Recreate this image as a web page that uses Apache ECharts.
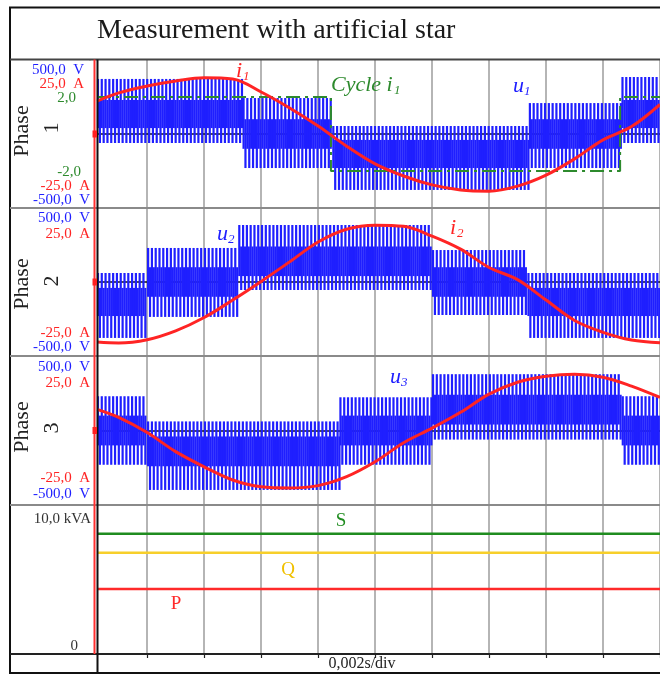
<!DOCTYPE html>
<html><head><meta charset="utf-8">
<script src="https://cdn.jsdelivr.net/npm/echarts@6/dist/echarts.min.js"></script>
<style>html,body{margin:0;padding:0;background:#fff}#c{width:660px;height:677px}</style>
</head><body><div id="c"></div>
<script>
// ---------------- data (time in ms, 0,002 s/div) ----------------
const timeMs = [-1.76, -1, 0, 1, 2, 3, 4, 5, 6, 7, 8, 9, 10, 11, 12, 13, 14, 15, 16, 17, 18];
const i1 = [11.1, 13.9, 16.2, 17.9, 19.0, 18.6, 14.2, 8.8, 2.7, -4.1, -10.1, -14.2, -17.2, -18.9, -19.3, -17.6, -13.9, -8.4, -2.0, 2.5, 10.0];
const i2 = [-20.3, -20.6, -19.5, -16.5, -12.0, -6.1, 0.2, 6.8, 13.5, 17.8, 19.2, 18.8, 15.5, 11.1, 4.9, 0.8, -6.1, -13.0, -17.0, -19.6, -20.5];
const i3 = [7.1, 4.4, -0.7, -7.1, -12.2, -16.6, -18.9, -19.3, -18.5, -15.5, -10.5, -4.1, 0.8, 6.1, 12.2, 16.2, 18.2, 18.9, 17.9, 14.9, 11.1];
const cycleTime = [-1.76, 6.45, 6.45, 16.6, 16.6, 18];
const cycleI1 = [2, 2, -2, -2, 2, 2];
const pwmPeriodMs = 0.133;
// voltage segments: [start ms, end ms, low V, dense-band low V, dense-band high V, high V]
const u1Segments = [
  [-1.76, 3.35, -61, 40, 230, 372],
  [3.35, 6.5, -230, -100, 100, 243],
  [6.5, 13.4, -378, -230, -40, 54],
  [13.4, 16.65, -230, -100, 100, 209],
  [16.65, 18, -61, 40, 230, 385]
];
const u2Segments = [
  [-1.76, 0, -378, -230, -40, 61],
  [0, 3.2, -236, -100, 100, 230],
  [3.2, 10, -54, 40, 240, 385],
  [10, 13.35, -223, -100, 100, 216],
  [13.35, 18, -378, -230, -40, 61]
];
const u3Segments = [
  [-1.76, 0, -230, -100, 100, 230],
  [0, 6.75, -399, -240, -40, 61],
  [6.75, 10, -230, -100, 100, 223],
  [10, 16.66, -61, 40, 240, 378],
  [16.66, 18, -230, -100, 100, 230]
];
const powerTime = [-1.76, 18];
const powerNames = ['S', 'Q', 'P'];
const powerKVA = [8.07, 6.8, 4.36];
const powerColors = ['#1f8c1f', '#f7cf2a', '#ff2a2a'];

// ---------------- styling ----------------
const BLUE = '#1f1fff', RED = '#ff2424', GREEN = '#2d8a2d';
const FONT = "'Liberation Serif','Times New Roman',serif";
const GL = 90.2, GW = 571;
const panels = [{top: 60, h: 148}, {top: 208, h: 148}, {top: 356, h: 149}, {top: 505, h: 149}];

// up-spikes (band low -> high) and down-spikes (low -> band high) alternate every half switching period
function pwmRender(params, api) {
  const t0 = api.value(0), t1 = api.value(1), lo = api.value(2), bLo = api.value(3), bHi = api.value(4), hi = api.value(5);
  const children = [];
  const half = pwmPeriodMs / 2;
  let up = true;
  for (let t = t0 + half / 2; t < t1; t += half) {
    const p = api.coord([t, up ? hi : bHi]), q = api.coord([t, up ? bLo : lo]);
    children.push({type: 'rect', shape: {x: p[0] - 1.1, y: p[1], width: 2.2, height: q[1] - p[1]}, style: {fill: BLUE}});
    up = !up;
  }
  return {type: 'group', children};
}

const zip = (xs, ys) => xs.map((x, k) => [x, ys[k]]);

const xAxis = panels.map((p, i) => ({
  type: 'value', gridIndex: i, min: -2, max: 18, interval: 2,
  axisLine: {show: i < 3, onZero: true, lineStyle: {color: '#111', width: 1.6}},
  axisTick: {show: i === 3, length: 4, lineStyle: {color: '#222', width: 1.2}},
  axisLabel: {show: false},
  splitLine: {show: true, lineStyle: {color: '#9c9c9c', width: 1.5}}
}));
const yAxis = [
  {gridIndex: 0, min: -500, max: 500}, {gridIndex: 0, min: -25, max: 25}, {gridIndex: 0, min: -4, max: 4},
  {gridIndex: 1, min: -500, max: 500}, {gridIndex: 1, min: -25, max: 25},
  {gridIndex: 2, min: -500, max: 500}, {gridIndex: 2, min: -25, max: 25},
  {gridIndex: 3, min: 0, max: 10}
].map(a => Object.assign({type: 'value', show: false}, a));

const series = [];
[[u1Segments, 0, 0], [u2Segments, 1, 3], [u3Segments, 2, 5]].forEach(([seg, xi, yi]) => {
  series.push({type: 'custom', xAxisIndex: xi, yAxisIndex: yi, renderItem: pwmRender, data: seg,
    encode: {x: [0, 1], y: [2, 5]}, z: 2, silent: true});
});
series.push({type: 'line', xAxisIndex: 0, yAxisIndex: 2, data: zip(cycleTime, cycleI1), symbol: 'none', z: 3,
  lineStyle: {color: GREEN, width: 2, type: [14, 5, 3, 5]}});
[[i1, 0, 1], [i2, 1, 4], [i3, 2, 6]].forEach(([vals, xi, yi]) => {
  series.push({type: 'line', xAxisIndex: xi, yAxisIndex: yi, data: zip(timeMs, vals), symbol: 'none', smooth: 0.35, z: 4,
    lineStyle: {color: RED, width: 3}});
});
powerNames.forEach((n, k) => {
  series.push({type: 'line', name: n, xAxisIndex: 3, yAxisIndex: 7, data: powerTime.map(t => [t, powerKVA[k]]),
    symbol: 'none', z: 3, lineStyle: {color: powerColors[k], width: 2.5}});
});

// ---------------- graphic frame & texts ----------------
const g = [];
const line = (x1, y1, x2, y2, color, w, z) => g.push({type: 'line', z: z || 60, shape: {x1, y1, x2, y2}, style: {stroke: color, lineWidth: w}});
const txt = (text, x, y, o) => g.push({type: 'text', z: 70, x, y, rotation: o.rot || 0,
  style: {text, fill: o.color || '#222', font: (o.italic ? 'italic ' : '') + (o.size || 15) + 'px ' + FONT,
    textAlign: o.align || 'right', textVerticalAlign: 'middle'}});

g.push({type: 'rect', z: 50, shape: {x: 11, y: 60.5, width: 85.5, height: 612}, style: {fill: '#fff'}});
g.push({type: 'polyline', z: 60, shape: {points: [[664, 7.5], [10, 7.5], [10, 673], [664, 673]]}, style: {stroke: '#111', lineWidth: 2, fill: null}});
line(10, 59.5, 664, 59.5, '#444', 2);
[208, 356, 505].forEach(y => line(10, y, 664, y, '#8a8a8a', 2));
line(10, 654, 664, 654, '#222', 2);
line(97.5, 59.5, 97.5, 673, '#111', 2);
line(94.5, 59.5, 94.5, 654, '#ff3030', 2);
[134, 282, 430.5].forEach(y => g.push({type: 'rect', z: 61, shape: {x: 92.5, y: y - 3.5, width: 4.5, height: 7}, style: {fill: '#ff2020'}}));

txt('Measurement with artificial star', 97, 31, {align: 'left', size: 28, color: '#1a1a1a'});

txt('500,0  V', 84, 70, {color: BLUE});
txt('25,0  A', 84, 84.5, {color: RED});
txt('2,0', 76, 98, {color: GREEN});
txt('-2,0', 81, 172, {color: GREEN});
txt('-25,0  A', 90, 186, {color: RED});
txt('-500,0  V', 90, 200.5, {color: BLUE});

txt('500,0  V', 90, 218, {color: BLUE});
txt('25,0  A', 90, 234.5, {color: RED});
txt('-25,0  A', 90, 333, {color: RED});
txt('-500,0  V', 90, 347.5, {color: BLUE});

txt('500,0  V', 90, 367, {color: BLUE});
txt('25,0  A', 90, 383, {color: RED});
txt('-25,0  A', 90, 478, {color: RED});
txt('-500,0  V', 90, 494, {color: BLUE});

txt('10,0 kVA', 91, 519, {color: '#333', size: 15});
txt('0', 78, 646, {color: '#333', size: 15});

[[131, 128, '1'], [284, 281, '2'], [427, 428, '3']].forEach(([yp, yn, n]) => {
  txt('Phase', 22.5, yp, {align: 'center', size: 22, rot: Math.PI / 2});
  txt(n, 52, yn, {align: 'center', size: 22, rot: Math.PI / 2});
});

txt('i', 236, 71, {align: 'left', italic: true, size: 22, color: RED});
txt('1', 243, 77, {align: 'left', italic: true, size: 13, color: RED});
txt('Cycle i', 331, 85, {align: 'left', italic: true, size: 22, color: GREEN});
txt('1', 394, 91, {align: 'left', italic: true, size: 13, color: GREEN});
txt('u', 513, 86, {align: 'left', italic: true, size: 22, color: BLUE});
txt('1', 524, 92, {align: 'left', italic: true, size: 13, color: BLUE});
txt('u', 217, 234, {align: 'left', italic: true, size: 22, color: BLUE});
txt('2', 228, 240, {align: 'left', italic: true, size: 13, color: BLUE});
txt('i', 450, 228, {align: 'left', italic: true, size: 22, color: RED});
txt('2', 457, 234, {align: 'left', italic: true, size: 13, color: RED});
txt('u', 390, 377, {align: 'left', italic: true, size: 22, color: BLUE});
txt('3', 401, 383, {align: 'left', italic: true, size: 13, color: BLUE});

txt('S', 341, 521, {align: 'center', size: 19, color: '#1f8c1f'});
txt('Q', 288, 570, {align: 'center', size: 19, color: '#f0c000'});
txt('P', 176, 604, {align: 'center', size: 19, color: '#ff2a2a'});
txt('0,002s/div', 362, 664, {align: 'center', size: 16, color: '#222'});

const chart = echarts.init(document.getElementById('c'), null, {renderer: 'canvas'});
chart.setOption({
  animation: false,
  backgroundColor: '#fff',
  grid: panels.map(p => ({left: GL, top: p.top, width: GW, height: p.h, show: false})),
  xAxis, yAxis, series, graphic: {elements: g}
});
</script></body></html>
